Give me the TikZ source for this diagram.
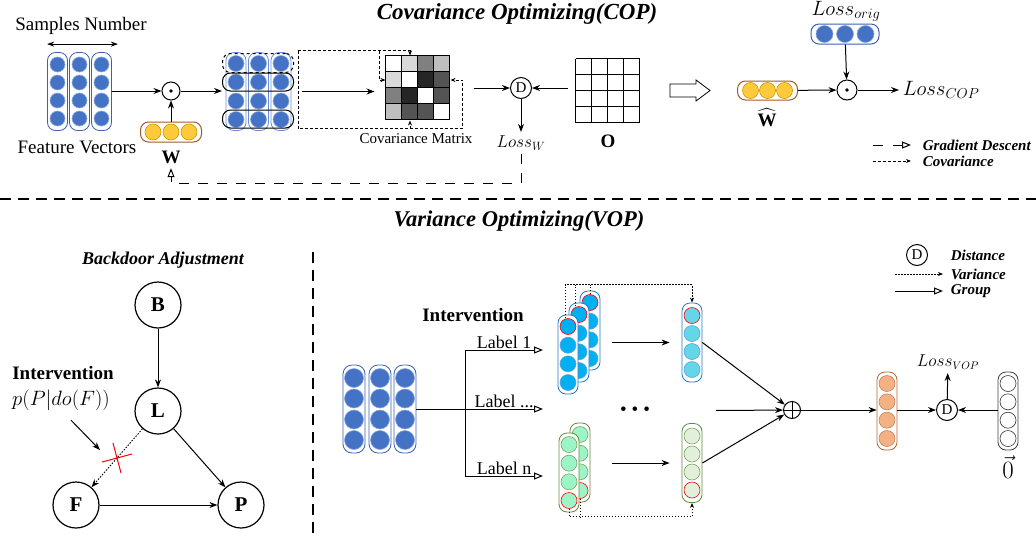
\documentclass[tikz,border=0pt]{standalone}
\usepackage{fontspec}
\setmainfont{Liberation Serif}
\usepackage{amsmath}
\usepackage{xcolor}
\usepackage{tikz}
\usetikzlibrary{calc}
\usetikzlibrary{positioning}
\usetikzlibrary{arrows.meta}
\usetikzlibrary{shapes.misc}

\definecolor{featblue}{HTML}{4472C4}
\definecolor{featedge}{HTML}{3A62AE}
\definecolor{wyellow}{HTML}{FFC93C}
\definecolor{wedge}{HTML}{C99A00}
\definecolor{wbox}{HTML}{9E5B2A}
\definecolor{skyblue}{HTML}{00B0F0}
\definecolor{skyedge}{HTML}{1F7AC8}
\definecolor{cyanlt}{HTML}{63D6E8}
\definecolor{mint}{HTML}{9CF5C6}
\definecolor{mintlt}{HTML}{E2EFDA}
\definecolor{grnedge}{HTML}{5B8C3A}
\definecolor{peach}{HTML}{F4B183}
\definecolor{peachedge}{HTML}{B5652A}

\begin{document}
\begin{tikzpicture}[
    x = 1pt,
    y = -1pt,
    line width = 1pt,
    font = \fontsize{19}{22}\selectfont,
    arr/.style = {-{Stealth[length=8pt,width=6pt]}},
    smallarr/.style = {-{Stealth[length=5pt,width=4pt]}},
    opentip/.style = {-{Triangle[open,length=9pt,width=7pt]}},
    gdash/.style = {dash pattern=on 10pt off 9pt},
    covdash/.style = {dash pattern=on 3pt off 2pt, line width=0.9pt},
    vardot/.style = {dash pattern=on 1.5pt off 1.5pt, line width=0.9pt},
    cutline/.style = {dash pattern=on 11pt off 7pt, line width=1.2pt},
    colbox/.style = {
      rectangle,
      draw,
      fill=white,
      rounded corners=8pt,
      minimum width=20pt,
      minimum height=78pt,
      inner sep=0pt,
      line width=0.8pt
    },
    rowbox/.style = {
      rectangle,
      draw,
      rounded corners=8pt,
      minimum height=19pt,
      inner sep=0pt
    },
    neuron/.style = {circle, draw, minimum size=16pt, inner sep=0pt, line width=0.6pt},
    opnode/.style = {circle, draw, minimum size=18pt, inner sep=0pt},
    odot/.style = {opnode, path picture={\fill (path picture bounding box.center) circle (1.8pt);}},
    oplus/.style = {opnode, path picture={
        \draw (path picture bounding box.north) -- (path picture bounding box.south)
              (path picture bounding box.west) -- (path picture bounding box.east);}},
    distnode/.style = {circle, draw, minimum size=21pt, inner sep=0pt, font=\fontsize{15}{17}\selectfont},
    causal/.style = {circle, draw, minimum size=46pt, inner sep=0pt, line width=1.2pt,
      font=\fontsize{21}{24}\selectfont\bfseries},
    cutmark/.style = {cross out, draw=red, minimum size=21pt, inner sep=0pt, rotate=-30},
    ttl/.style = {font=\fontsize{23}{27}\selectfont\bfseries\itshape},
    lgd/.style = {anchor=west, font=\fontsize{15}{17}\selectfont\bfseries\itshape}
  ]
    \useasboundingbox (0,0) rectangle (1036,539);

    % ---------------- COP ----------------
    \node[ttl] (coptitle) at (517,14) {Covariance Optimizing(COP)};

    \foreach \i/\x in {1/57.5,2/79.5,3/101.5}{
      \node[colbox, draw=featedge] (fv\i) at (\x,91.5) {};
      \foreach \dy in {-27,-9,9,27}
        \node[neuron, draw=featblue!60, fill=featblue, minimum size=15pt] at ($(fv\i)+(0,\dy)$) {};
    }
    \draw[{Stealth[length=7pt,width=5pt]}-{Stealth[length=7pt,width=5pt]}]
      ($(fv1.north west)+(0,-8)$) -- ($(fv3.north east)+(6,-8)$);
    \node (samples) at (81,26) {Samples Number};
    \node (featlbl) at (77,147) {Feature Vectors};

    \node[odot] (mul1) at (171,91) {};
    \draw[arr] (fv3.east |- mul1) -- (mul1);
    \node[rowbox, draw=wbox, minimum width=61pt, minimum height=20pt] (wbox) at (171,132) {};
    \foreach \dx in {-18,0,18}
      \node[neuron, draw=wedge, fill=wyellow] at ($(wbox)+(\dx,0)$) {};
    \draw[arr] (wbox) -- (mul1);
    \node (wlbl) at (171,157) {$\mathbf{W}$};

    \foreach \i/\x in {1/236,2/258.5,3/281}{
      \node[colbox, draw=featblue!80] (sc\i) at (\x,91.5) {};
      \foreach \dy in {-28,-9.5,9.5,28}
        \node[neuron, draw=featblue!60, fill=featblue] at ($(sc\i)+(0,\dy)$) {};
    }
    \node[rowbox, dashed, minimum width=71pt] (row1) at (258,63) {};
    \node[rowbox, minimum width=71pt, minimum height=18pt] (row2) at (258,82) {};
    \node[rowbox, minimum width=71pt, minimum height=18pt] (row4) at (258,119) {};
    \node[minimum width=72pt, minimum height=78pt, inner sep=0pt] (stack) at (258.5,91.5) {};
    \draw[arr] (mul1) -- (mul1 -| stack.west);

    % covariance matrix
    \node[minimum size=64pt, inner sep=0pt] (covm) at (418,88) {};
    \foreach \row [count=\i] in {{100,85,50,75},{85,100,15,33},{50,15,100,33},{75,33,33,100}}
      \foreach \g [count=\j] in \row
        \filldraw[fill=white!\g!black, line width=1.4pt]
          ($(covm.north west)+(16*\j-16,16*\i-16)$) rectangle +(16,16);
    \node[font=\fontsize{15}{17}\selectfont] (covlbl) at (416,139) {Covariance Matrix};
    \draw[arr, shorten <=7pt, shorten >=11pt] (stack.east) -- (stack.east -| covm.west);

    \coordinate (covtop) at ($(covm.north)+(-8,-5)$);
    \coordinate (covbot) at ($(covm.south)+(-8,8)$);
    \draw[covdash, smallarr] ($(stack.east |- covtop)+(3,0)$) -- (covtop) -- ($(covm.north)+(-8,0)$);
    \draw[covdash, smallarr] ($(stack.east |- covtop)+(3,0)$) -- ($(stack.east |- covbot)+(3,0)$)
      -- ($(covm.east |- covbot)+(12,0)$) -- ($(covm.east)+(12,-8)$) -- ($(covm.east)+(0,-8)$);
    \draw[covdash, smallarr] (covbot) -- ($(covm.south)+(-8,0)$);
    \draw[covdash, smallarr] ($(covm.west |- covtop)+(-6,0)$) -- ($(covm.west)+(-6,-8)$) -- ($(covm.west)+(0,-8)$);

    \node[distnode] (d1) at (521,88) {D};
    \draw[arr, shorten <=23pt] (covm.east |- d1) -- (d1);
    \node[minimum size=64pt, inner sep=0pt] (ogrid) at (608,91) {};
    \foreach \k in {0,...,4}{
      \draw[line width=1.3pt] ($(ogrid.north west)+(16*\k,0)$) -- ++(0,64);
      \draw[line width=1.3pt] ($(ogrid.north west)+(0,16*\k)$) -- ++(64,0);
    }
    \node (olbl) at (608,141) {\textbf{O}};
    \draw[arr, shorten <=8pt] (ogrid.west |- d1) -- (d1);
    \node[font=\fontsize{17}{20}\selectfont] (lossw) at (521,143) {$Loss_W$};
    \draw[arr] (d1) -- (lossw);
    \draw[gdash, opentip, shorten >=1pt] (lossw.south) -- ++(0,29) -| (wlbl.south);

    % hollow arrow
    \draw[line width=0.8pt] (670,84) -- (696,84) -- (696,80) -- (710,90.5)
      -- (696,101) -- (696,97) -- (670,97) -- cycle;

    \node[rowbox, draw=wbox, minimum width=60pt] (whbox) at (767.5,90.5) {};
    \foreach \dx in {-17,0,17}
      \node[neuron, draw=wedge, fill=wyellow] at ($(whbox)+(\dx,0)$) {};
    \node[inner sep=0pt] (whlbl) at (767,118) {$\widehat{\mathbf{W}}$};
    \node[odot, minimum size=20pt] (mul2) at (847,90) {};
    \draw[arr] (whbox) -- (mul2);
    \node[rowbox, draw=featedge, minimum width=68pt, minimum height=20pt] (lobox) at (845,34) {};
    \foreach \dx in {-20.5,0,20.5}
      \node[neuron, draw=featblue!60, fill=featblue, minimum size=17pt] at ($(lobox)+(\dx,0)$) {};
    \node[font=\fontsize{21}{24}\selectfont, inner sep=0pt] (lolbl) at (846,11) {$Loss_{orig}$};
    \draw[arr] (lobox) -- (mul2);
    \node[font=\fontsize{21}{24}\selectfont, anchor=west] (losscop) at (899,90) {$Loss_{COP}$};
    \draw[arr] (mul2) -- (losscop);

    % legend COP
    \node[lgd] (lggd) at (919,145) {Gradient Descent};
    \node[lgd] (lgcov) at (919,161) {Covariance};
    \coordinate (lgg1) at (873,145);
    \coordinate (lgg2) at (873,161);
    \draw[dash pattern=on 10pt off 10pt, opentip, shorten >=8pt] (lgg1) -- (lggd);
    \draw[covdash, smallarr, shorten >=8pt] (lgg2) -- (lgcov);

    \draw[cutline] (0,199) -- (1036,199);
    \draw[cutline] (313,252) -- (313,539);

    % ---------------- VOP ----------------
    \node[ttl, font=\fontsize{22.5}{26}\selectfont\bfseries\itshape] (voptitle) at (519,221) {Variance Optimizing(VOP)};

    \node[font=\fontsize{18}{21}\selectfont\bfseries\itshape] (bdtitle) at (163,260) {Backdoor Adjustment};
    \node[causal] (B) at (158,305) {B};
    \node[causal] (L) at (158,411) {L};
    \node[causal] (F) at (76,505) {F};
    \node[causal] (P) at (241,505) {P};
    \draw[arr] (B) -- (L);
    \draw[arr] (L) -- (P);
    \draw[arr] (F) -- (P);
    \draw[vardot, arr] (L) -- (F);
    \path (L) -- (F) node[pos=0.5, cutmark] (cut) {};
    \node[font=\fontsize{19}{22}\selectfont\bfseries] (intv1) at (63,373) {Intervention};
    \node[font=\fontsize{22}{25}\selectfont] (pdo) at (61,400) {$p(P|do(F))$};
    \draw[arr] ($(pdo.south)+(10,6)$) -- ($(cut.center)+(-17,-8)$);

    % grouping
    \foreach \i/\x in {1/354,2/380,3/405}{
      \node[colbox, draw=featedge, minimum width=22pt, minimum height=88pt, rounded corners=9pt] (in\i) at (\x,409) {};
      \foreach \dy in {-31,-10.5,10.5,31}
        \node[neuron, draw=featblue!60, fill=featblue, minimum size=19pt] at ($(in\i)+(0,\dy)$) {};
    }
    \node[font=\fontsize{19}{22}\selectfont\bfseries] (intv2) at (473,315) {Intervention};
    \coordinate (split) at (465,409);
    \coordinate (br1) at (543,350);
    \coordinate (br2) at (543,409);
    \coordinate (br3) at (543,476);
    \draw (in3.east |- split) -- (split);
    \draw[opentip] (split) |- (br1) node[pos=0.75, above, inner sep=1pt, font=\fontsize{18}{21}\selectfont] (lab1) {Label 1};
    \draw[opentip] (split) -- (br2) node[midway, above, inner sep=1pt, font=\fontsize{18}{21}\selectfont] (lab2) {Label ...};
    \draw[opentip] (split) |- (br3) node[pos=0.75, above, inner sep=1pt, font=\fontsize{18}{21}\selectfont] (lab3) {Label n};

    % blue group
    \foreach \i/\x/\y in {3/590/330.5,2/579/342.5,1/568/354.5}{
      \node[colbox, draw=skyedge, minimum height=79pt] (bs\i) at (\x,\y) {};
      \foreach \dy in {-9.3,9.3,28}
        \node[neuron, draw=skyedge!70, fill=skyblue] at ($(bs\i)+(0,\dy)$) {};
      \node[neuron, draw=red, fill=skyblue] (bstop\i) at ($(bs\i)+(0,-28)$) {};
    }
    \node[colbox, draw=skyedge, minimum height=79pt] (btg) at (692,342.5) {};
    \foreach \dy in {-9,9,27}
      \node[neuron, draw=skyedge!70, fill=cyanlt] at ($(btg)+(0,\dy)$) {};
    \node[neuron, draw=red, fill=cyanlt] (btgtop) at ($(btg)+(0,-27)$) {};
    \coordinate (bvar) at ($(btg.north)+(0,-18)$);
    \draw[vardot, smallarr] ($(bstop1.north)+(-3,0)$) |- (bvar) -- (btg.north);
    \draw[vardot] ($(bstop2.north)+(-4,0)$) -- ($(bstop2.north |- bvar)+(-4,0)$);
    \draw[vardot] (bstop3.north) -- (bstop3.north |- bvar);
    \draw[arr, shorten <=12pt, shorten >=12pt] (bs3.east |- btg) -- (btg);

    % green group
    \foreach \i/\x/\y in {2/580/462.5,1/569/472.5}{
      \node[colbox, draw=grnedge, minimum height=79pt] (gs\i) at (\x,\y) {};
      \foreach \dy in {-28,-9.3,9.3}
        \node[neuron, draw=grnedge!80, fill=mint] at ($(gs\i)+(0,\dy)$) {};
      \node[neuron, draw=red, fill=mint] (gsbot\i) at ($(gs\i)+(0,28)$) {};
    }
    \node[colbox, draw=grnedge, minimum height=79pt] (gtg) at (692,463) {};
    \foreach \dy in {-27,-9,9}
      \node[neuron, draw=grnedge!80, fill=mintlt] at ($(gtg)+(0,\dy)$) {};
    \node[neuron, draw=red, fill=mintlt] (gtgbot) at ($(gtg)+(0,27)$) {};
    \coordinate (gvar) at ($(gtg.south)+(0,14)$);
    \draw[vardot, smallarr] (gsbot1.south) |- (gvar) -- (gtg.south);
    \draw[vardot] (gsbot2.south) -- (gsbot2.south |- gvar);
    \draw[arr, shorten <=22pt, shorten >=12pt] (gs2.east |- gtg) -- (gtg);

    \node (dots) at (635,411) {\textbullet\hspace{5pt}\textbullet\hspace{5pt}\textbullet};
    \node[oplus, minimum size=17pt] (sum) at (792,410) {};
    \draw[arr, shorten <=62pt] (dots) -- (sum);
    \draw[arr] (btg.east) -- (sum);
    \draw[arr] (gtg.east) -- (sum);

    \node[colbox, draw=peachedge, minimum height=78pt] (agg) at (887,411) {};
    \foreach \dy in {-27.5,-9.2,9.2,27.5}
      \node[neuron, draw=peachedge!80, fill=peach] at ($(agg)+(0,\dy)$) {};
    \draw[arr] (sum) -- (sum -| agg.west);
    \node[distnode] (d2) at (947,410) {D};
    \draw[arr] (agg.east |- d2) -- (d2);
    \node[font=\fontsize{16}{19}\selectfont] (lossvop) at (948,362) {$Loss_{VOP}$};
    \draw[arr] (d2) -- (lossvop);
    \node[colbox, draw=black!75, minimum height=78pt] (zero) at (1008,411) {};
    \foreach \dy in {-27.5,-9.2,9.2,27.5}
      \node[neuron, draw=black!80, fill=white] at ($(zero)+(0,\dy)$) {};
    \draw[arr] (zero.west |- d2) -- (d2);
    \node[inner sep=0pt, font=\fontsize{23}{26}\selectfont] (zerolbl) at (1008,467) {$\vec{0}$};

    % legend VOP
    \node[distnode] (lgdd) at (917,255) {D};
    \node[lgd] (lgdist) at (947,255) {Distance};
    \node[lgd] (lgvar) at (947,274) {Variance};
    \node[lgd] (lggrp) at (947,291) {Group};
    \coordinate (lgv) at (895,274);
    \coordinate (lgp) at (895,291);
    \draw[vardot, smallarr, shorten >=4pt] (lgv) -- (lgvar);
    \draw[opentip, shorten >=4pt] (lgp) -- (lggrp);
  \end{tikzpicture}
\end{document}
